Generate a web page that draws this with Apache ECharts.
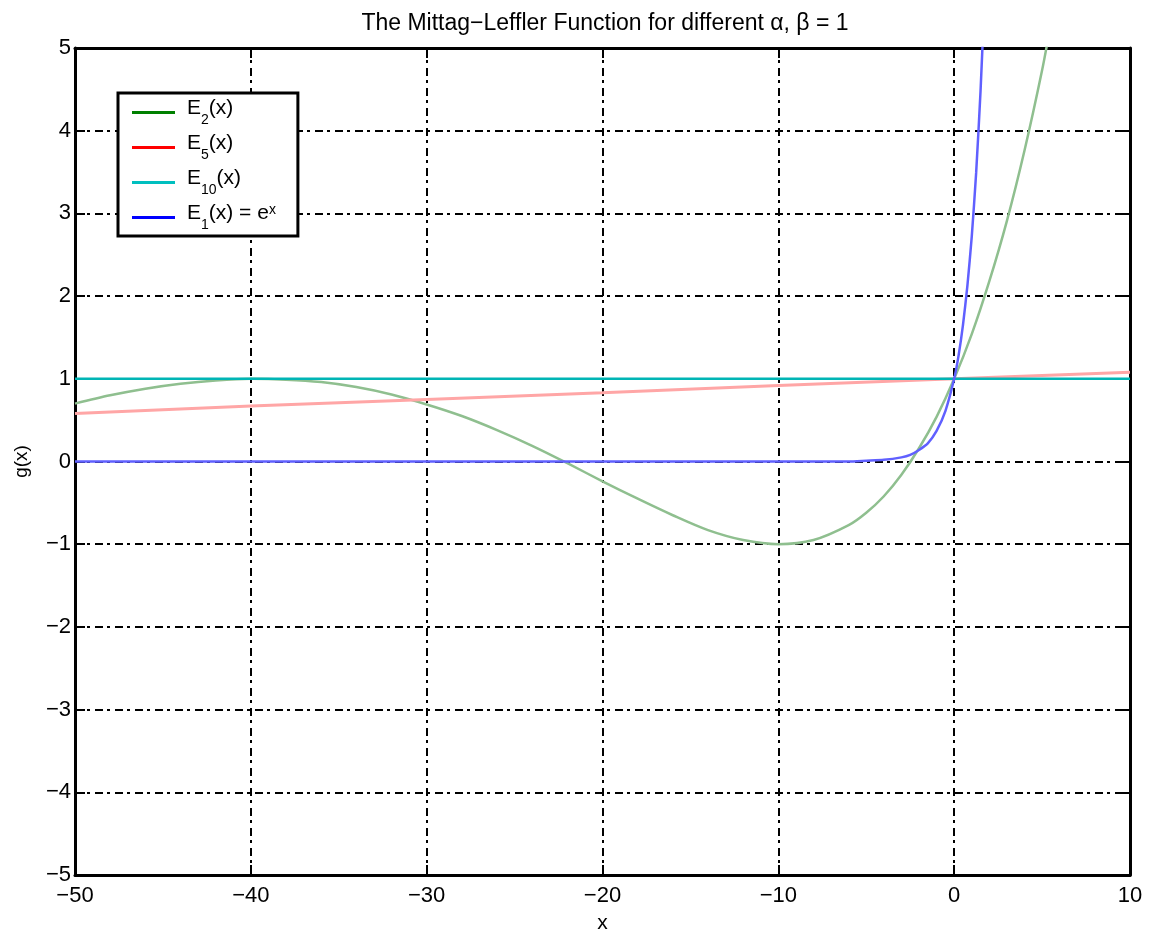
<!DOCTYPE html>
<html>
<head>
<meta charset="utf-8">
<script src="https://cdn.jsdelivr.net/npm/echarts@6/dist/echarts.min.js"></script>
<style>
html, body { margin: 0; padding: 0; background: #fff; }
#chart { width: 1155px; height: 939px; }
</style>
</head>
<body>
<div id="chart"></div>
<script>
// values
var seriesNames = ['E2(x)', 'E5(x)', 'E10(x)', 'E1(x) = e^x'];

var e2X = [-50, -48, -46, -44, -42, -40, -38, -36, -34, -32, -30, -28, -26, -24, -22, -20, -18, -16, -14, -12, -10, -8, -6, -5, -4, -3, -2, -1, 0, 1, 2, 3, 4, 5, 5.5];
var e2Y = [0.70, 0.80, 0.88, 0.94, 0.98, 1.00, 0.99, 0.96, 0.90, 0.81, 0.69, 0.55, 0.38, 0.19, -0.02, -0.24, -0.45, -0.65, -0.83, -0.95, -1.00, -0.95, -0.77, -0.62, -0.42, -0.16, 0.16, 0.54, 1.00, 1.54, 2.18, 2.91, 3.76, 4.73, 5.30];

var e5X = [-50, -40, -30, -20, -10, 0, 10];
var e5Y = [0.58, 0.67, 0.75, 0.83, 0.92, 1.00, 1.08];

var e10X = [-50, -25, 0, 10];
var e10Y = [1.00, 1.00, 1.00, 1.00];

var e1X = [-50, -6, -5, -4, -3, -2.5, -2, -1.5, -1, -0.5, 0, 0.25, 0.5, 0.75, 1, 1.25, 1.5, 1.7];
var e1Y = [0, 0, 0.01, 0.02, 0.05, 0.08, 0.14, 0.22, 0.37, 0.61, 1.00, 1.28, 1.65, 2.12, 2.72, 3.49, 4.48, 5.47];

function pairs(xs, ys) {
  return xs.map(function (x, i) { return [x, ys[i]]; });
}
function minus(v) {
  return String(v).replace('-', '\u2212');
}

var font = 'Liberation Sans, Arial, sans-serif';
var gridLine = { show: true, lineStyle: { color: '#000', width: 2, type: [8, 4, 3, 5] } };
var boxLine = { show: true, onZero: false, lineStyle: { color: '#000', width: 3 } };
var inTick = { show: true, inside: true, length: 10, lineStyle: { color: '#000', width: 2 } };

var chart = echarts.init(document.getElementById('chart'));
var option = {
  backgroundColor: '#fff',
  animation: false,
  title: {
    text: 'The Mittag\u2212Leffler Function for different \u03b1, \u03b2 = 1',
    left: 600,
    textAlign: 'center',
    top: 7,
    textStyle: { fontFamily: font, fontSize: 23, fontWeight: 'normal', color: '#000' }
  },
  grid: { left: 75, right: 25, top: 48, bottom: 62, show: false },
  legend: {
    orient: 'vertical',
    left: 118,
    top: 93,
    padding: [5, 22, 4, 14],
    borderColor: '#000',
    borderWidth: 3,
    backgroundColor: '#fff',
    icon: 'rect',
    itemWidth: 43,
    itemHeight: 3,
    itemGap: 6,
    data: seriesNames,
    formatter: function (name) {
      if (name === 'E2(x)') return '{b|E}{s|2}{b|(x)}';
      if (name === 'E5(x)') return '{b|E}{s|5}{b|(x)}';
      if (name === 'E10(x)') return '{b|E}{s|10}{b|(x)}';
      return '{b|E}{s|1}{b|(x) = e}{p|x}';
    },
    textStyle: {
      fontFamily: font,
      padding: [0, 0, 0, 7],
      rich: {
        b: { fontFamily: font, fontSize: 21, color: '#000', lineHeight: 29, verticalAlign: 'top' },
        s: { fontFamily: font, fontSize: 14, color: '#000', lineHeight: 16, verticalAlign: 'bottom' },
        p: { fontFamily: font, fontSize: 14, color: '#000', lineHeight: 14, verticalAlign: 'top' }
      }
    }
  },
  xAxis: [{
    type: 'value', min: -50, max: 10, interval: 10,
    name: 'x', nameLocation: 'middle', nameGap: 38,
    nameTextStyle: { fontFamily: font, fontSize: 21, color: '#000' },
    axisLine: boxLine,
    axisTick: inTick,
    axisLabel: { fontFamily: font, fontSize: 22, color: '#000', margin: 10, formatter: minus },
    splitLine: gridLine
  }, {
    type: 'value', min: -50, max: 10, interval: 10, position: 'top',
    axisLine: boxLine, axisTick: inTick,
    axisLabel: { show: false }, splitLine: { show: false }
  }],
  yAxis: [{
    type: 'value', min: -5, max: 5, interval: 1,
    name: 'g(x)', nameLocation: 'middle', nameGap: 44,
    nameTextStyle: { fontFamily: font, fontSize: 19, color: '#000' },
    axisLine: boxLine,
    axisTick: inTick,
    axisLabel: { fontFamily: font, fontSize: 22, color: '#000', margin: 4, formatter: minus },
    splitLine: gridLine
  }, {
    type: 'value', min: -5, max: 5, interval: 1, position: 'right',
    axisLine: boxLine, axisTick: inTick,
    axisLabel: { show: false }, splitLine: { show: false }
  }],
  series: [
    { name: seriesNames[0], type: 'line', smooth: 0.3, symbol: 'none', data: pairs(e2X, e2Y),
      itemStyle: { color: '#008000' }, lineStyle: { color: '#8fbf8f', width: 2.5 } },
    { name: seriesNames[1], type: 'line', symbol: 'none', data: pairs(e5X, e5Y),
      itemStyle: { color: '#ff0000' }, lineStyle: { color: '#ffa6a6', width: 3 } },
    { name: seriesNames[2], type: 'line', symbol: 'none', data: pairs(e10X, e10Y),
      itemStyle: { color: '#00bfbf' }, lineStyle: { color: '#00b5b5', width: 2.5 } },
    { name: seriesNames[3], type: 'line', smooth: 0.2, symbol: 'none', data: pairs(e1X, e1Y),
      itemStyle: { color: '#0000ff' }, lineStyle: { color: '#6060ff', width: 2.5 } }
  ]
};
chart.setOption(option);
</script>
</body>
</html>
